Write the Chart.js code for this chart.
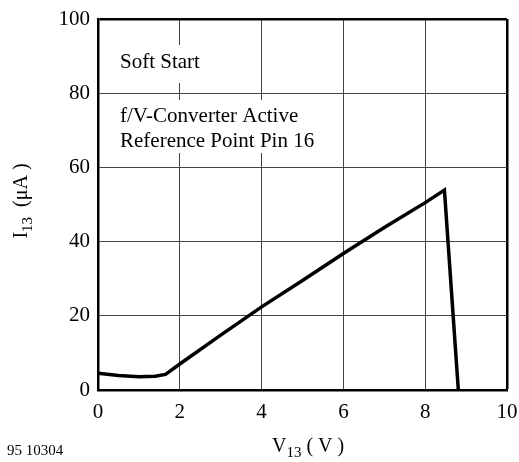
<!DOCTYPE html>
<html>
<head>
<meta charset="utf-8">
<script src="https://cdn.jsdelivr.net/npm/chart.js@4"></script>
<style>
  html, body { margin: 0; padding: 0; background: #fff; }
  #wrap { width: 519px; height: 462px; }
</style>
</head>
<body>
<div id="wrap"><canvas id="chart" width="519" height="462"></canvas></div>
<script>
// curve
const voltage = [0, 0.5, 1, 1.4, 1.65, 2, 3, 4, 5, 6, 7, 8, 8.47, 8.81];
const current = [4.5, 3.9, 3.6, 3.7, 4.2, 7, 14.8, 22.4, 29.5, 36.8, 43.8, 50.5, 53.9, 0];
const xTicks = [0, 2, 4, 6, 8, 10];
const yTicks = [0, 20, 40, 60, 80, 100];
const notes = ['Soft Start', 'f/V-Converter Active', 'Reference Point Pin 16'];

const serif = '"Liberation Serif", "Times New Roman", serif';

// draws text with a subscript part, returns width
function subText(ctx, parts, x, y, measureOnly) {
    let cx = x;
    parts.forEach(p => {
        ctx.font = p.sub ? '15px ' + serif : '20px ' + serif;
        if (!measureOnly) ctx.fillText(p.t, cx, y + (p.sub ? 5 : 0));
        cx += ctx.measureText(p.t).width;
    });
    return cx - x;
}

const labels = {
    id: 'labels',
    afterDraw(chart) {
        const ctx = chart.ctx;
        ctx.save();
        // white boxes behind the notes cut the grid
        ctx.fillStyle = '#fff';
        ctx.fillRect(114, 45, 92, 38);
        ctx.fillRect(114, 100, 208, 53);

        ctx.fillStyle = '#000';
        ctx.textBaseline = 'alphabetic';
        ctx.textAlign = 'left';
        ctx.font = '21px ' + serif;
        ctx.fillText(notes[0], 120, 68);
        ctx.fillText(notes[1], 120, 122);
        ctx.fillText(notes[2], 120, 147);

        ctx.font = '15px ' + serif;
        ctx.fillText('95 10304', 7, 455);

        // x title
        subText(ctx, [{t: 'V'}, {t: '13', sub: true}, {t: ' ( V )'}], 272, 452);

        // y title
        const yParts = [{t: 'I'}, {t: '13', sub: true}, {t: '  (μA )'}];
        const w = subText(ctx, yParts, 0, 0, true);
        ctx.translate(27, 201 + w / 2);
        ctx.rotate(-Math.PI / 2);
        subText(ctx, yParts, 0, 0);
        ctx.restore();
    }
};

const edge = (val, max) => val === max;
const noMargins = s => { s.paddingLeft = 0; s.paddingRight = 0; s.paddingTop = 0; s.paddingBottom = 0; };

new Chart(document.getElementById('chart'), {
    type: 'scatter',
    data: {
        datasets: [{
            data: voltage.map((v, i) => ({x: v, y: current[i]})),
            showLine: true,
            borderColor: '#000',
            borderWidth: 3.5,
            pointRadius: 0,
            tension: 0,
            fill: false
        }]
    },
    options: {
        responsive: false,
        animation: false,
        layout: { padding: { left: 0, top: 19, right: 12, bottom: 0 } },
        plugins: { legend: { display: false }, tooltip: { enabled: false } },
        scales: {
            x: {
                type: 'linear',
                min: 0,
                max: 10,
                afterBuildTicks: s => { s.ticks = xTicks.map(v => ({value: v})); },
                afterFit: s => { s.height = 72; noMargins(s); },
                ticks: {
                    color: '#000',
                    padding: 10,
                    font: { family: serif, size: 21 }
                },
                grid: {
                    drawTicks: false,
                    color: ctx => edge(ctx.tick && ctx.tick.value, 10) ? '#000' : '#444',
                    lineWidth: ctx => edge(ctx.tick && ctx.tick.value, 10) ? 2.5 : 1
                },
                border: { color: '#000', width: 2.5 }
            },
            y: {
                type: 'linear',
                min: 0,
                max: 100,
                afterBuildTicks: s => { s.ticks = yTicks.map(v => ({value: v})); },
                afterFit: s => { s.width = 98; noMargins(s); },
                ticks: {
                    color: '#000',
                    padding: 8,
                    font: { family: serif, size: 21 }
                },
                grid: {
                    drawTicks: false,
                    color: ctx => edge(ctx.tick && ctx.tick.value, 100) ? '#000' : '#444',
                    lineWidth: ctx => edge(ctx.tick && ctx.tick.value, 100) ? 2.5 : 1
                },
                border: { color: '#000', width: 2.5 }
            }
        }
    },
    plugins: [labels]
});
</script>
</body>
</html>
